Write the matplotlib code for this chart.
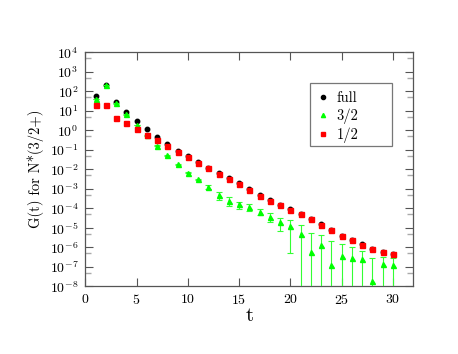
import matplotlib
matplotlib.use("Agg")
import matplotlib.pyplot as plt
from matplotlib.lines import Line2D
from matplotlib.patches import Rectangle
from matplotlib.ticker import LogLocator, NullFormatter, FixedLocator

plt.rcParams["font.family"] = "serif"
plt.rcParams["font.serif"] = ["cmr10", "DejaVu Serif"]
plt.rcParams["mathtext.fontset"] = "cm"
plt.rcParams["axes.formatter.use_mathtext"] = True

t = list(range(1, 31))

full = [59, 210, 27.3, 8.4, 3.0, 1.12, 0.453, 0.198, 0.0867, 0.050,
        0.0237, 0.0122, 0.0064, 0.0034, 0.00188, 0.00096, 0.00049, 0.000262, 0.000152, 8.7e-5,
        5.2e-5, 2.9e-5, 1.48e-5, 7.7e-6, 4.0e-6, 2.4e-6, 1.45e-6, 8.5e-7, 5.9e-7, 4.5e-7]

half = [19.8, 19.8, 4.43, 2.45, 1.17, 0.574, 0.307, 0.157, 0.0789, 0.0403,
        0.0210, 0.01125, 0.00594, 0.00318, 0.00176, 0.000899, 0.000453, 0.000245, 0.000143, 8.18e-5,
        4.92e-5, 2.73e-5, 1.39e-5, 7.28e-6, 3.80e-6, 2.29e-6, 1.39e-6, 8.18e-7, 5.74e-7, 4.43e-7]

three_half = [40, 210, 24, 6.6, 1.87, 0.56, 0.162, 0.0528, 0.0183, 0.00662,
              0.0030, 0.00128, 0.000465, 0.000245, 0.000157, 0.000117, 6.85e-5, 3.80e-5, 1.91e-5, 1.28e-5,
              4.98e-6, 5.74e-7, 1.31e-6, 1.21e-7, 3.58e-7, 2.83e-7, 2.42e-7, 1.87e-8, 1.44e-7, 1.28e-7]

three_half_err = [1.0, 4.0, 0.6, 0.2, 0.06, 0.02, 0.006, 0.002, 0.0008, 0.0004,
                  0.0003, 0.00026, 0.00021, 0.00012, 6.3e-5, 4.7e-5, 2.5e-5, 1.7e-5, 1.24e-5, 1.23e-5,
                  8.5e-6, 4.8e-6, 2.9e-6, 2.0e-6, 1.1e-6, 7.1e-7, 3.8e-7, 2.5e-7, 1.6e-7, 1.45e-7]

labels = ["full", "3/2", "1/2"]
colors = ["black", "#00ff00", "#ff0000"]
markers = ["o", "^", "s"]

fig = plt.figure(figsize=(4.58, 3.54), dpi=100)
ax = fig.add_axes([0.1863, 0.1912, 0.7161, 0.6611])

ax.plot(t, full, markers[0], color=colors[0], ms=3.2, zorder=3)
ax.errorbar(t, three_half, yerr=three_half_err, fmt=markers[1], color=colors[1], ms=3.6,
            ecolor="#33ff33", elinewidth=0.8, capsize=2, capthick=0.8, zorder=4)
ax.plot(t, half, markers[2], color=colors[2], ms=3.6, zorder=5)

ax.set_yscale("log")
ax.set_xlim(0, 32)
ax.set_ylim(1e-8, 1e4)

ax.yaxis.set_major_locator(LogLocator(base=10, numticks=20))
ax.yaxis.set_minor_locator(LogLocator(base=10, subs=(5.0,), numticks=20))
ax.yaxis.set_minor_formatter(NullFormatter())
ax.xaxis.set_major_locator(FixedLocator([0, 5, 10, 15, 20, 25, 30]))

for s in ax.spines.values():
    s.set_color("#555555")
    s.set_linewidth(0.9)
ax.tick_params(which="major", direction="in", length=6, width=0.8, color="#555555",
               top=True, right=True, labelsize=10, pad=5)
ax.tick_params(which="minor", direction="in", length=4, width=1.0, color="#aaaaaa",
               top=True, right=True)

ax.set_xlabel("t", fontsize=15, labelpad=0)
ax.set_ylabel("G(t) for N*(3/2+)", fontsize=10.5, labelpad=4)

# legend box is wider than its contents in the original, so draw the frame by hand
ax.add_patch(Rectangle((0.686, 0.5996), 0.25, 0.268, transform=ax.transAxes,
                       facecolor="white", edgecolor="#777777", lw=0.9, zorder=6))
handles = [Line2D([0], [0], marker=m, linestyle="none", color=c, ms=3)
           for m, c in zip(markers, colors)]
leg = ax.legend(handles, labels, loc="upper left", bbox_to_anchor=(0.697, 0.832), fontsize=10.5,
                frameon=False, handlelength=1.2, handletextpad=0.36, borderpad=0,
                labelspacing=0.22, borderaxespad=0)
leg.set_zorder(7)

fig.savefig("out.png", dpi=100)
